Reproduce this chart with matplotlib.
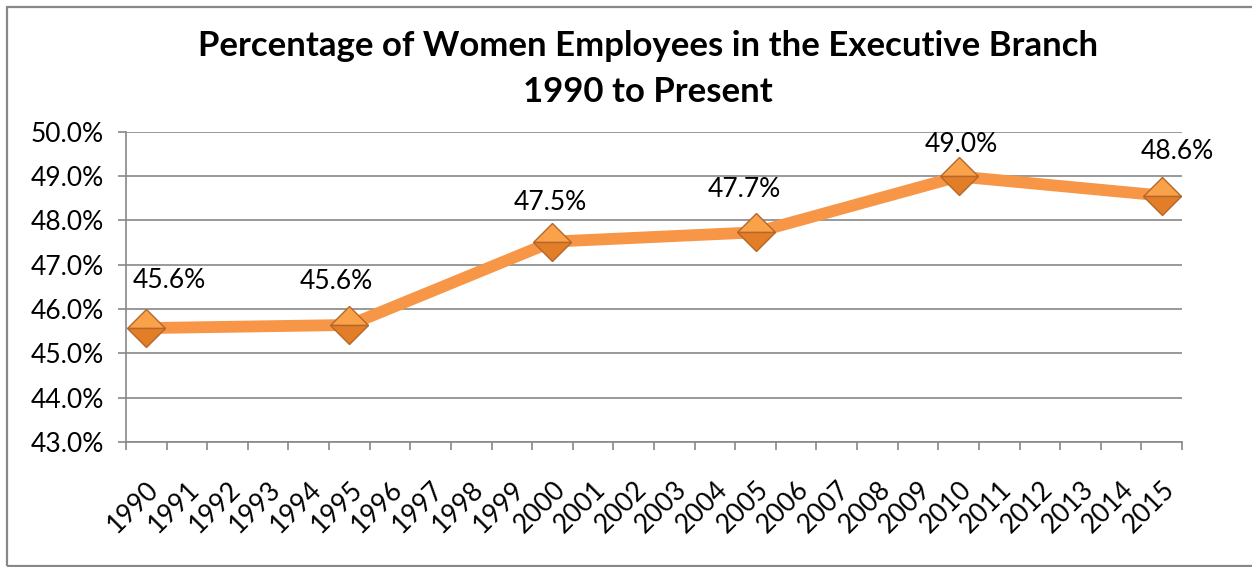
import matplotlib
matplotlib.use("Agg")
import matplotlib.pyplot as plt
from matplotlib.patches import Rectangle
from matplotlib.ticker import FixedLocator, FuncFormatter

# Data
years = [str(y) for y in range(1990, 2016)]
data_years = ["1990", "1995", "2000", "2005", "2010", "2015"]
pct_women = [45.57, 45.64, 47.52, 47.73, 48.99, 48.56]
title_lines = ["Percentage of Women Employees in the Executive Branch", "1990 to Present"]

# label nudges in pixels (dx, dy), as placed in the original
label_offsets = [(23, 48), (-13, 43), (-2, 39), (-11, 43), (3, 32), (16, 44)]

W, H = 1252, 567
fig = plt.figure(figsize=(W / 100, H / 100), dpi=100)
plt.rcParams['font.family'] = ['Lato', 'DejaVu Sans']

ax = fig.add_axes([126 / W, 1 - 442 / H, (1182 - 126) / W, (442 - 131.7) / H])

grid_c = '#888888'
orange = '#F79646'
fs = 19

x_idx = [years.index(y) for y in data_years]
ax.plot(x_idx, pct_women, color=orange, linewidth=8.5, solid_joinstyle='miter',
        marker='D', markersize=19.5, fillstyle='top',
        markerfacecolor='#FAA24A', markerfacecoloralt='#E27D28',
        markeredgecolor='#B5662A', markeredgewidth=1.0, zorder=3)

for xi, v, (dx, dy) in zip(x_idx, pct_women, label_offsets):
    ax.annotate(f"{v:.1f}%", (xi, v), xytext=(dx, dy), textcoords='offset pixels',
                ha='center', va='center', fontsize=fs, color='black', zorder=4)

ax.set_xlim(-0.5, len(years) - 0.5)
ax.set_ylim(43, 50)
ax.set_yticks(range(43, 51))
ax.yaxis.set_major_formatter(FuncFormatter(lambda v, p: f"{v:.1f}%"))
ax.set_xticks(range(len(years)))
ax.set_xticklabels(years, rotation=45, ha='right', va='top', rotation_mode='anchor')
ax.xaxis.set_minor_locator(FixedLocator([i - 0.5 for i in range(len(years) + 1)]))

ax.tick_params(axis='x', which='major', length=0, pad=25, labelsize=fs)
ax.tick_params(axis='x', which='minor', length=6, width=1.2, color=grid_c)
ax.tick_params(axis='y', length=6, width=1.2, color=grid_c, pad=10, labelsize=fs)

ax.grid(axis='y', color=grid_c, linewidth=1.2)
ax.set_axisbelow(True)
for s in ['top', 'right']:
    ax.spines[s].set_visible(False)
for s in ['left', 'bottom']:
    ax.spines[s].set_color(grid_c)
    ax.spines[s].set_linewidth(1.2)

# title
fig.text(648 / W, 1 - 56 / H, title_lines[0], ha='center', va='baseline',
         fontsize=25, fontweight='bold')
fig.text(648 / W, 1 - 102 / H, title_lines[1], ha='center', va='baseline',
         fontsize=25, fontweight='bold')

# chart border
fig.patches.append(Rectangle((7 / W, 1 - 566 / H), 1.2, (566 - 6.5) / H,
                             transform=fig.transFigure, fill=False,
                             edgecolor='#888888', linewidth=1.6))

fig.savefig('out.png', dpi=100)
